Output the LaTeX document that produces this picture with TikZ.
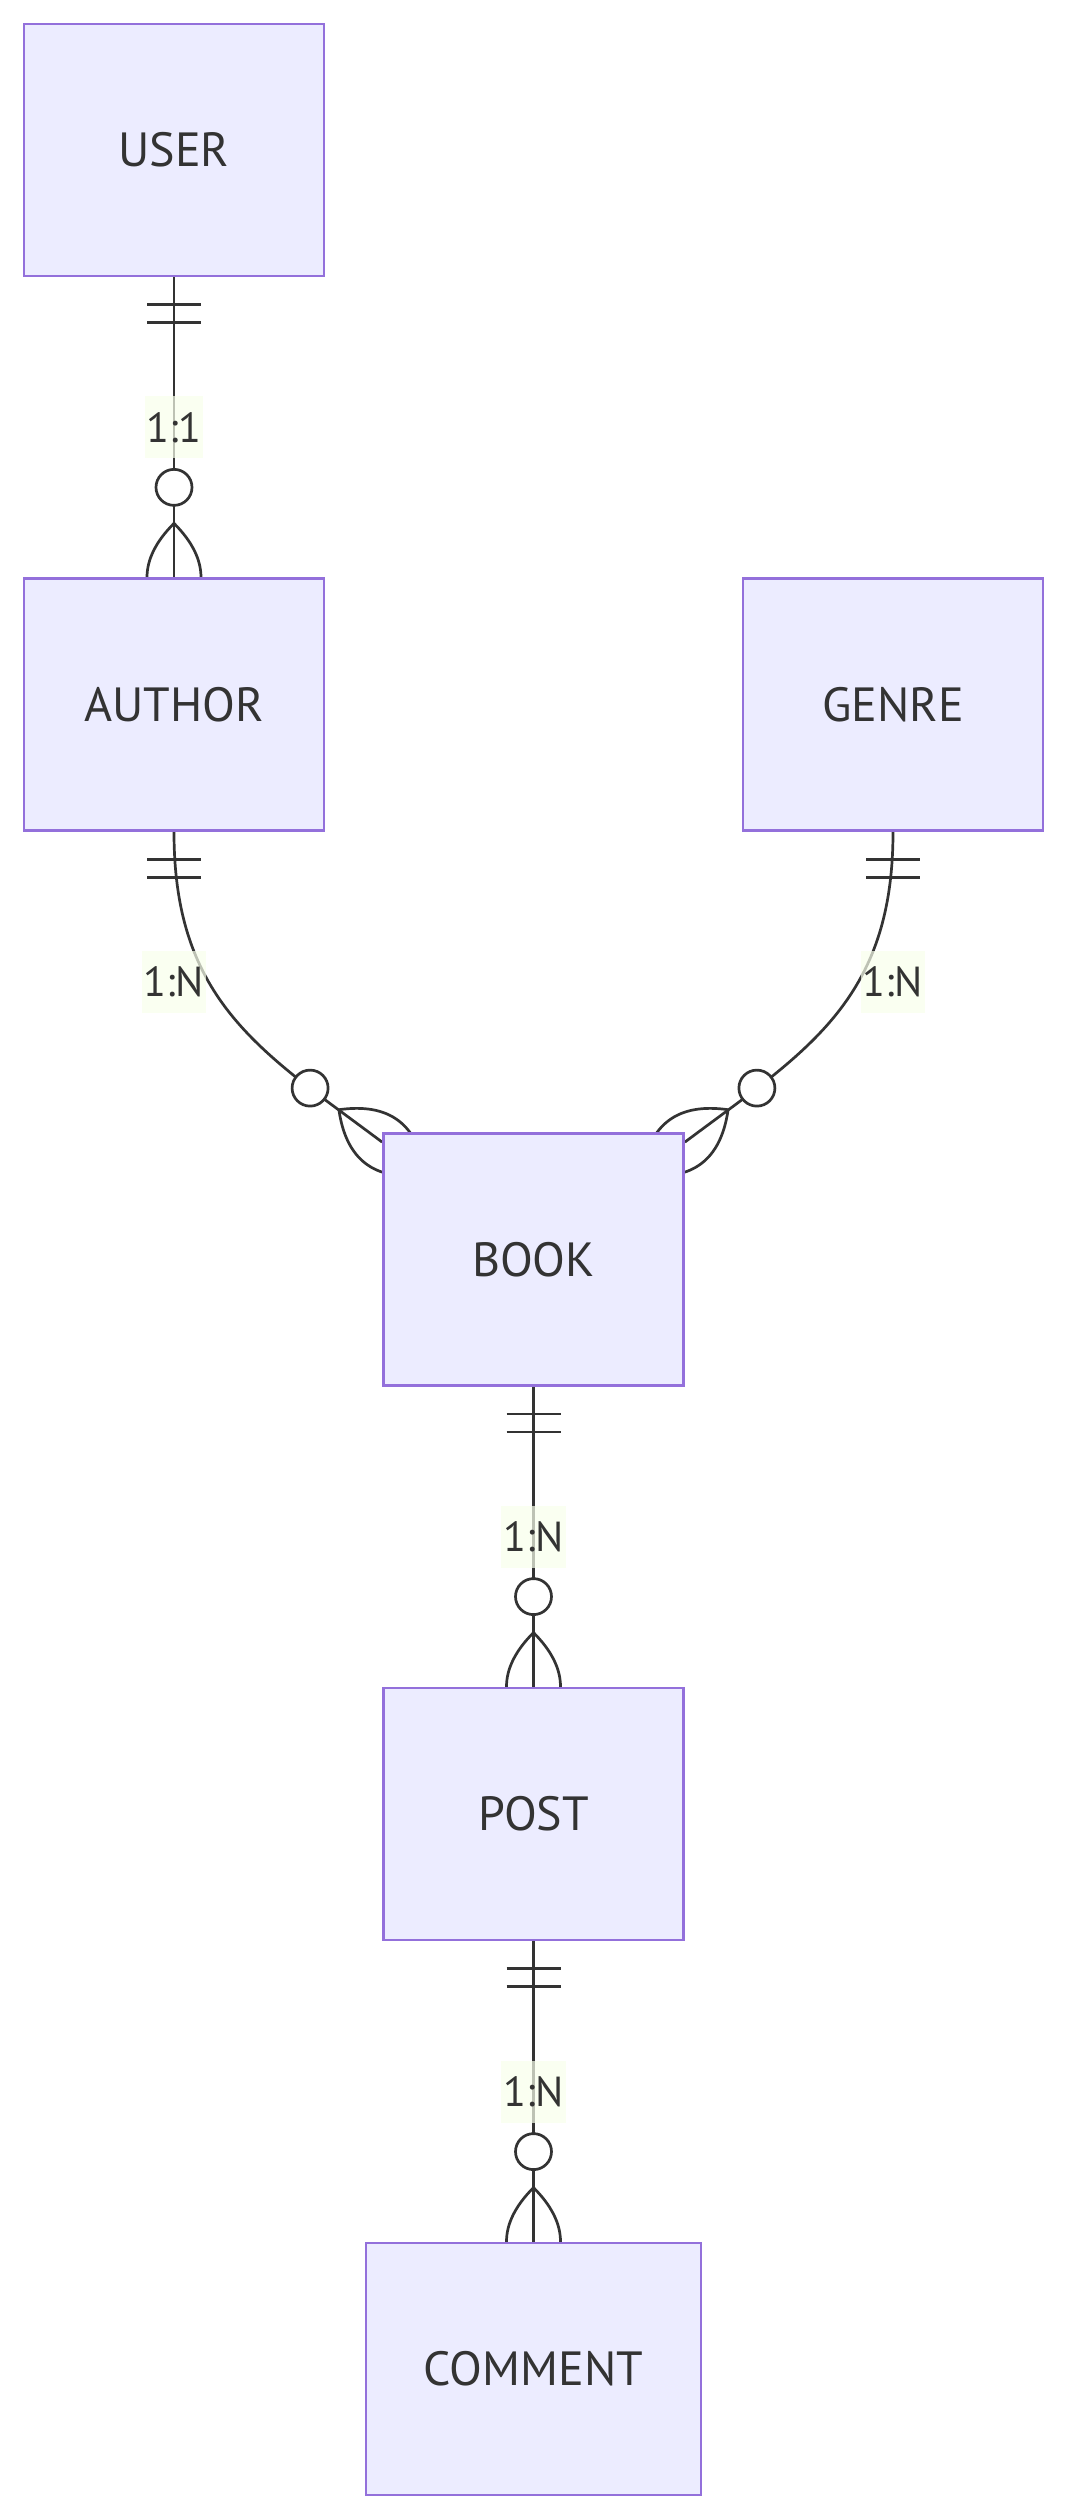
\documentclass[tikz,border=0pt]{standalone}
\usepackage{fontspec}
\setmainfont{PT Sans}
\usetikzlibrary{calc}
\pgfdeclarelayer{background}
\pgfsetlayers{background,main}
\definecolor{entfill}{HTML}{ECECFF}
\definecolor{entdraw}{HTML}{9370DB}
\definecolor{ink}{HTML}{333333}
\definecolor{lblfill}{HTML}{F9FFEC}
% crow's foot with zero (circle) at end point #1, direction (#2,#3)
\newcommand\crowend[3]{%
  \draw[rel, fill=white] ($(#1)+({-90*(#2)},{-90*(#3)})$) circle[radius=18pt];
  \draw[rel] ($(#1)+({-54*(#2)},{-54*(#3)})$)
    .. controls ($(#1)+({-18*(#2)-36*(#3)},{-18*(#3)+36*(#2)})$) and ($(#1)+({18*(#2)-36*(#3)},{18*(#3)+36*(#2)})$) .. ($(#1)+({54*(#2)},{54*(#3)})$)
    .. controls ($(#1)+({18*(#2)+36*(#3)},{18*(#3)-36*(#2)})$) and ($(#1)+({-18*(#2)+36*(#3)},{-18*(#3)-36*(#2)})$) .. cycle;}
% exactly-one bars at start point #1, going down
\newcommand\onestart[1]{%
  \draw[rel] ($(#1)+(-27,27)$) -- ($(#1)+(27,27)$);
  \draw[rel] ($(#1)+(-27,45)$) -- ($(#1)+(27,45)$);}
\begin{document}
\begin{tikzpicture}[x=1pt,y=-1pt,
  entity/.style={draw=entdraw, fill=entfill, line width=2.8pt, minimum width=300pt, minimum height=252pt, inner sep=0pt, text=ink, font=\fontsize{48}{58}\selectfont},
  rel/.style={draw=ink, line width=2.7pt},
  card/.style={fill=lblfill, fill opacity=0.7, text opacity=1, text=ink, font=\fontsize{42}{50}\selectfont, minimum height=62pt, inner xsep=2pt, inner ysep=0pt}]
\useasboundingbox (0,0) rectangle (1067,2520);
\node[entity] (user) at (174,150) {USER};
\node[entity] (author) at (174,704.75) {AUTHOR};
\node[entity] (genre) at (893,704.75) {GENRE};
\node[entity] (book) at (533.5,1259.5) {BOOK};
\node[entity] (post) at (533.5,1814) {POST};
\node[entity, minimum width=335pt] (comment) at (533.5,2369) {COMMENT};
\coordinate (eab) at ($(book.north west)+(0,10)$);
\coordinate (egb) at ($(book.north east)+(0,10)$);
\begin{pgfonlayer}{background}
  \fill[white] (0,0) rectangle (1067,2520);
  \draw[rel] (user.south) -- (author.north);
  \draw[rel] (author.south) .. controls ($(author.south)+(0,170)$) and ($(eab)+(-120,-90)$) .. (eab);
  \draw[rel] (genre.south) .. controls ($(genre.south)+(0,170)$) and ($(egb)+(120,-90)$) .. (egb);
  \draw[rel] (book.south) -- (post.north);
  \draw[rel] (post.south) -- (comment.north);
  \onestart{user.south}
  \onestart{author.south}
  \onestart{genre.south}
  \onestart{book.south}
  \onestart{post.south}
  \crowend{author.north}{0}{1}
  \crowend{eab}{0.8}{0.6}
  \crowend{egb}{-0.8}{0.6}
  \crowend{post.north}{0}{1}
  \crowend{comment.north}{0}{1}
\end{pgfonlayer}
\node[card] (l1) at ($(user.south)!0.5!(author.north)$) {1:1};
\node[card] (l2) at ($(author.south)!0.5!(author.south|-book.north)$) {1:N};
\node[card] (l3) at ($(genre.south)!0.5!(genre.south|-book.north)$) {1:N};
\node[card] (l4) at ($(book.south)!0.5!(post.north)$) {1:N};
\node[card] (l5) at ($(post.south)!0.5!(comment.north)$) {1:N};
\end{tikzpicture}
\end{document}
